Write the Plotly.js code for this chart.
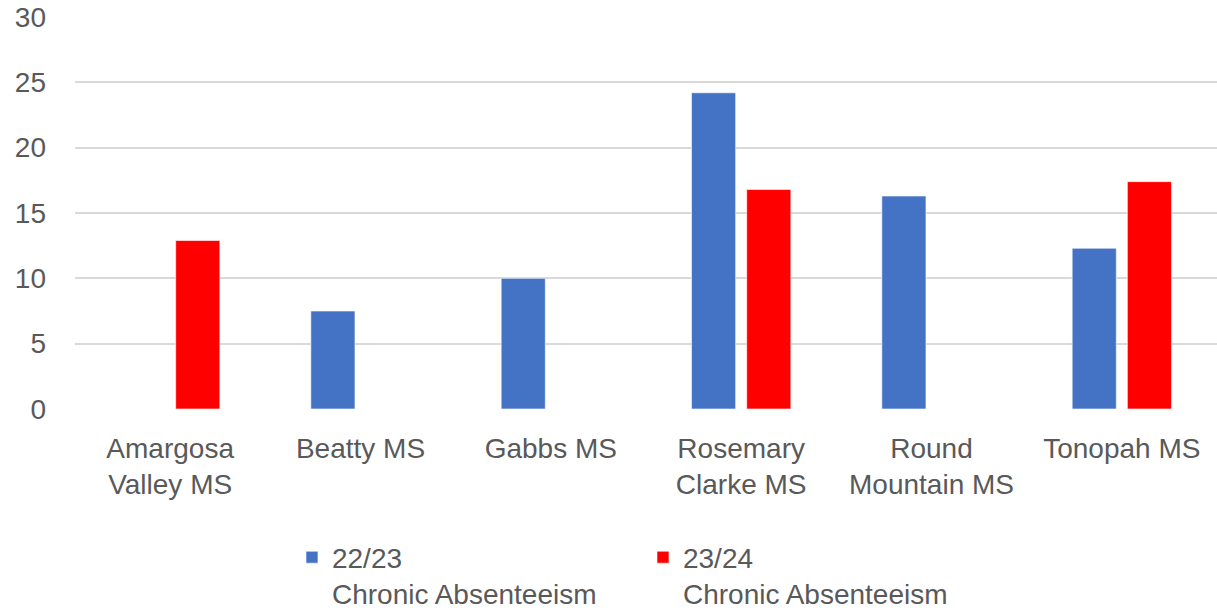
<!DOCTYPE html>
<html>
<head>
<meta charset="utf-8">
<script src="https://cdn.plot.ly/plotly-3.0.1.min.js"></script>
<style>html,body{margin:0;padding:0;background:#fff;}#chart{width:1217px;height:615px;}</style>
</head>
<body>
<div id="chart"></div>
<script>
const categories = ["Amargosa<br>Valley MS", "Beatty MS", "Gabbs MS", "Rosemary<br>Clarke MS", "Round<br>Mountain MS", "Tonopah MS"];
const series1Name = "22/23<br>Chronic Absenteeism";
const series2Name = "23/24<br>Chronic Absenteeism";
const values2223 = [null, 7.5, 10.0, 24.2, 16.3, 12.3];
const values2324 = [12.9, null, null, 16.8, null, 17.4];
const yTicks = [0, 5, 10, 15, 20, 25, 30];

const fontFam = "Liberation Sans, Arial, sans-serif";
const textColor = "#595959";

const traces = [
  {type: "bar", name: series1Name, x: categories, y: values2223,
   marker: {color: "#4472C4", line: {color: "rgba(255,255,255,0.6)", width: 1}}, hoverinfo: "y"},
  {type: "bar", name: series2Name, x: categories, y: values2324,
   marker: {color: "#FF0000", line: {color: "rgba(255,255,255,0.6)", width: 1}}, hoverinfo: "y"}
];

const layout = {
  width: 1217, height: 615,
  margin: {l: 75, r: 0, t: 17, b: 205.5, autoexpand: false},
  paper_bgcolor: "#fff", plot_bgcolor: "#fff",
  barmode: "group", bargap: 0.42, bargroupgap: 0.2,
  font: {family: fontFam, size: 28, color: textColor},
  xaxis: {type: "category", showgrid: false, zeroline: false, showline: false, ticks: "", automargin: false,
          tickfont: {family: fontFam, size: 28, color: textColor}, ticklabelstandoff: 20},
  yaxis: {range: [0, 30], tickvals: yTicks, ticktext: yTicks.map(String), automargin: false,
          showgrid: true, gridcolor: "#d9d9d9", gridwidth: 2, zeroline: false, showline: false, ticks: "",
          tickfont: {family: fontFam, size: 28, color: textColor}, ticklabelstandoff: 28},
  showlegend: true,
  legend: {orientation: "h", x: 0.19, xanchor: "left", y: -0.315, yanchor: "top",
           valign: "top", entrywidth: 306, entrywidthmode: "pixels", itemwidth: 30,
           font: {family: fontFam, size: 28, color: textColor}, traceorder: "normal"}
};

Plotly.newPlot("chart", traces, layout, {displayModeBar: false, staticPlot: true});
</script>
</body>
</html>
